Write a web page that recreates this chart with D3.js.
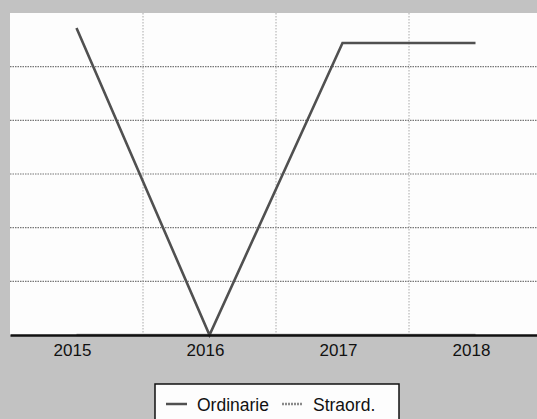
<!DOCTYPE html>
<html>
<head>
<meta charset="utf-8">
<script src="https://cdn.jsdelivr.net/npm/d3@7"></script>
<style>
  body { margin: 0; background: #c2c2c2; }
  svg { display: block; }
</style>
</head>
<body>
<div id="chart"></div>
<script>
// data
var years = ["2015", "2016", "2017", "2018"];
var ordinarie = [5.72, 0, 5.44, 5.44];
var straord = [0, 0, 0, 0];
var seriesNames = ["Ordinarie", "Straord."];

var width = 537, height = 419;
var plotLeft = 10, plotRight = 542, plotTop = 13, plotBottom = 335;

var svg = d3.select("#chart").append("svg")
    .attr("width", width)
    .attr("height", height);

svg.append("rect")
    .attr("width", width).attr("height", height)
    .attr("fill", "#c2c2c2");

var x = d3.scaleBand().domain(years).range([plotLeft, plotRight]).padding(0);
var y = d3.scaleLinear().domain([0, 6]).range([plotBottom, plotTop]);

// white plot area
svg.append("rect")
    .attr("x", plotLeft).attr("y", plotTop)
    .attr("width", plotRight - plotLeft).attr("height", plotBottom - plotTop)
    .attr("fill", "#fdfdfd");

// horizontal gridlines
svg.append("g").selectAll("line")
    .data(y.ticks(6).filter(function(d) { return d > 0 && d < 6; }))
    .enter().append("line")
    .attr("x1", plotLeft).attr("x2", plotRight)
    .attr("y1", function(d) { return y(d); })
    .attr("y2", function(d) { return y(d); })
    .attr("stroke", "#777")
    .attr("stroke-width", 1.2)
    .attr("stroke-dasharray", "1.5,1");

// vertical gridlines between categories
svg.append("g").selectAll("line")
    .data(years.slice(1))
    .enter().append("line")
    .attr("x1", function(d) { return x(d); })
    .attr("x2", function(d) { return x(d); })
    .attr("y1", plotTop).attr("y2", plotBottom)
    .attr("stroke", "#aaa")
    .attr("stroke-width", 1)
    .attr("stroke-dasharray", "1.5,1.5");

var line = d3.line()
    .x(function(d, i) { return x(years[i]) + x.bandwidth() / 2; })
    .y(function(d) { return y(d); });

svg.append("path")
    .datum(straord)
    .attr("d", line)
    .attr("fill", "none")
    .attr("stroke", "#999")
    .attr("stroke-width", 2.5);

svg.append("path")
    .datum(ordinarie)
    .attr("d", line)
    .attr("fill", "none")
    .attr("stroke", "#505050")
    .attr("stroke-width", 2.6)
    .attr("stroke-linejoin", "miter");

// bottom axis
var xAxis = svg.append("g")
    .attr("transform", "translate(0," + plotBottom + ")")
    .call(d3.axisBottom(x).tickSize(0).tickPadding(9));
xAxis.select(".domain")
    .attr("stroke", "#111")
    .attr("stroke-width", 2.5);
xAxis.selectAll("text")
    .attr("font-family", "Liberation Sans, Arial, sans-serif")
    .attr("font-size", 17)
    .attr("fill", "#111")
    .attr("dx", -4);

// legend
var lg = svg.append("g");
lg.append("rect")
    .attr("x", 155).attr("y", 384)
    .attr("width", 244).attr("height", 50)
    .attr("fill", "#fdfdfd")
    .attr("stroke", "#111")
    .attr("stroke-width", 1.5);

var legendX = [166, 282];
var legendColors = ["#505050", "#8a8a8a"];
seriesNames.forEach(function(name, i) {
    lg.append("line")
        .attr("x1", legendX[i]).attr("x2", legendX[i] + 21)
        .attr("y1", 404).attr("y2", 404)
        .attr("stroke", legendColors[i])
        .attr("stroke-width", 2.5)
        .attr("stroke-dasharray", i == 1 ? "2,1" : null);
    lg.append("text")
        .attr("x", legendX[i] + 31)
        .attr("y", 411)
        .attr("font-family", "Liberation Sans, Arial, sans-serif")
        .attr("font-size", 17.5)
        .attr("fill", "#111")
        .text(name);
});
</script>
</body>
</html>
